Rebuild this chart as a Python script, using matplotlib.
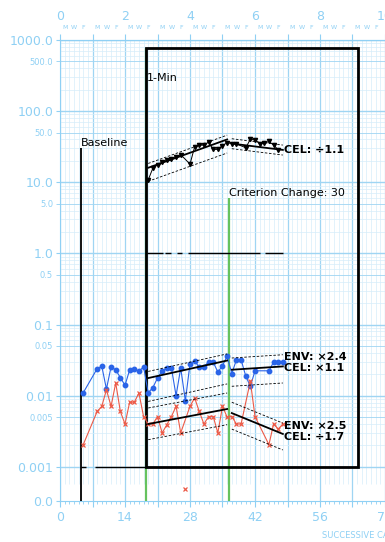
import numpy as np
import matplotlib
matplotlib.use("Agg")
import matplotlib.pyplot as plt
from matplotlib.patches import Rectangle

# ---- data ----
corr_days = [5, 8, 9, 10, 11, 12, 13, 14, 15, 16, 17, 18, 19, 20, 21, 22, 23, 24, 25, 26,
             27, 28, 29, 30, 31, 32, 33, 34, 35, 36, 37, 38, 39, 40, 41, 42, 45, 46, 47, 48]
corr_vals = [0.011, 0.024, 0.026, 0.0124, 0.0255, 0.023, 0.018, 0.014, 0.023, 0.024, 0.022,
             0.0255, 0.011, 0.013, 0.0177, 0.0225, 0.0245, 0.0245, 0.010, 0.0245, 0.0085,
             0.028, 0.031, 0.025, 0.0256, 0.0297, 0.0297, 0.0215, 0.0264, 0.036, 0.0205,
             0.032, 0.032, 0.019, 0.0135, 0.0224, 0.0224, 0.0297, 0.030, 0.0297]

err_days = [5, 8, 9, 10, 11, 12, 13, 14, 15, 16, 17, 18, 19, 20, 21, 22, 23, 24, 25, 26,
            27, 28, 29, 30, 31, 32, 33, 34, 35, 36, 37, 38, 39, 41, 42, 45, 46, 47, 48]
err_vals = [0.00205, 0.0060, 0.0071, 0.0121, 0.0071, 0.0151, 0.0060, 0.0040, 0.0081, 0.0081,
            0.0109, 0.0051, 0.0040, 0.0040, 0.0051, 0.0030, 0.0039, 0.0051, 0.0071, 0.0030,
            0, 0.0071, 0.0093, 0.0060, 0.0040, 0.0051, 0.0051, 0.0030, 0.0071, 0.0050,
            0.0051, 0.0040, 0.0040, 0.016, 0.0051, 0.00205, 0.0040, 0.0034, 0.0040]

top_days = [19, 20, 21, 22, 23, 24, 25, 26, 28, 29, 30, 31, 32, 33, 34, 35, 36, 37, 38,
            40, 41, 42, 43, 44, 45, 46, 47]
top_vals = [10.8, 15.8, 17.5, 19, 20.5, 21.5, 22.5, 24.5, 18, 31.5, 33, 33.5, 36.5, 29, 29,
            32.8, 36, 35, 34.5, 30.7, 40, 39.5, 35, 35.5, 37.5, 33.5, 28.5]

# celeration lines (solid) and their envelopes (dashed)
cel_x0 = [19, 19, 19, 37, 37, 37]
cel_x1 = [36, 36, 36, 48, 48, 48]
cel_y0 = [16.0, 0.0177, 0.0040, 35.0, 0.0232, 0.0057]
cel_y1 = [40.0, 0.0312, 0.0065, 28.5, 0.0258, 0.0029]
env_up = [1.15, 1.24, 1.68, 1.17, 1.46, 1.42]
env_dn = [1.55, 2.13, 1.66, 1.18, 1.71, 1.68]

# record floors
floor_lo = [4.5, 7.5, 18.7, 22.6, 25.1, 27.6, 44.1]
floor_hi = [5.5, 18.5, 22.2, 24.0, 26.2, 43.1, 48.1]
floor_val = [0.001, 0.001, 1, 1, 1, 1, 1]

week_labels = [str(w) if w % 2 == 0 else "" for w in range(21)]
day_labels = [str(d) if d % 14 == 0 else "" for d in range(0, 141, 7)]

LIGHT = "#8fd0f4"
GRID_MAJ = "#9fd5f3"
GRID_MIN = "#d6edfa"
BLUE = "#2a64e8"
RED = "#ec5a47"
GREEN = "#66c25e"
Y_BOT = 10 ** -3.48
ZERO_Y = 10 ** -3.31

fig = plt.figure(figsize=(3.85, 5.42), dpi=100)
ax = fig.add_axes([60 / 385, 41 / 542, 650 / 385, 461 / 542])
ax.set_xlim(0, 140)
ax.set_yscale("log")
ax.set_ylim(Y_BOT, 1000)

# grid
for d in range(141):
    if d % 7 == 0:
        ax.axvline(d, color=GRID_MAJ, lw=0.9, zorder=0)
    else:
        ax.vlines(d, 5.8e-4, 1000, color=GRID_MIN, lw=0.5, zorder=0)
for e in range(-3, 3):
    for m in range(1, 10):
        v = m * 10.0 ** e
        if m == 1:
            ax.axhline(v, color=GRID_MAJ, lw=1.0, zorder=0)
        elif m == 5:
            ax.axhline(v, color=GRID_MAJ, lw=0.6, zorder=0)
        else:
            ax.axhline(v, color=GRID_MIN, lw=0.5, zorder=0)
ax.axhline(1000, color=GRID_MAJ, lw=1.0, zorder=0)

# ticks
ax.set_xticks(range(0, 141, 7))
ax.set_xticklabels(day_labels)
ax.set_xticks(range(141), minor=True)
ax.set_yticks([Y_BOT, 0.001, 0.01, 0.1, 1, 10, 100, 1000])
ax.set_yticklabels(["0.0", "0.001", "0.01", "0.1", "1.0", "10.0", "100.0", "1000.0"])
ax.set_yticks([0.005, 0.05, 0.5, 5, 50, 500], minor=True)
ax.set_yticklabels(["0.005", "0.05", "0.5", "5.0", "50.0", "500.0"], minor=True)
ax.tick_params(axis="y", which="major", labelsize=9, colors=LIGHT, length=3, pad=2)
ax.tick_params(axis="y", which="minor", labelsize=6, colors=LIGHT, length=3, pad=2)
ax.tick_params(axis="x", which="major", labelsize=9, colors=LIGHT, length=4)
ax.tick_params(axis="x", which="minor", colors=LIGHT, length=2)
for sp in ax.spines.values():
    sp.set_color(LIGHT)
ax.set_xlabel("SUCCESSIVE CALENDAR DAYS", fontsize=6, color=LIGHT, labelpad=4.5)

top = ax.secondary_xaxis("top")
top.set_xticks(range(0, 141, 7))
top.set_xticklabels(week_labels)
mwf = [d for d in range(140) if d % 7 in (1, 3, 5)]
top.set_xticks(mwf, minor=True)
top.set_xticklabels(["MWF"[(d % 7) // 2] for d in mwf], minor=True)
top.tick_params(axis="x", which="major", labelsize=9, colors=LIGHT, length=4, pad=8)
top.tick_params(axis="x", which="minor", labelsize=4.5, colors=LIGHT, length=0, pad=7)
top.spines["top"].set_color(LIGHT)

# phase lines and boxes
ax.vlines(4.5, Y_BOT, 30, color="black", lw=1.3, zorder=3)
ax.text(4.6, 30, "Baseline", fontsize=8, va="bottom", ha="left")
ax.vlines(18.5, Y_BOT, 780, color=GREEN, lw=1.6, zorder=3)
ax.vlines(36.5, Y_BOT, 6.0, color=GREEN, lw=1.6, zorder=3)
ax.text(36.5, 6.0, "Criterion Change: 30", fontsize=8, va="bottom", ha="left")
ax.add_patch(Rectangle((18.5, 0.001), 64.25 - 18.5, 780 - 0.001, fill=False,
                       edgecolor="black", lw=2.0, zorder=4))
ax.text(18.7, 290, "1-Min", fontsize=8, va="center", ha="left")

for lo, hi, v in zip(floor_lo, floor_hi, floor_val):
    ax.hlines(v, lo, hi, color="black", lw=1.0, zorder=3)

# data series
corr_days = np.array(corr_days)
corr_vals = np.array(corr_vals)
err_days = np.array(err_days)
err_vals = np.array(err_vals, dtype=float)
nz = err_vals > 0
ax.plot(corr_days, corr_vals, color=BLUE, lw=0.8, marker="o", ms=3.2, zorder=5)
ax.plot(err_days[nz], err_vals[nz], color=RED, lw=0.8, marker="x", ms=3.2, mew=0.9, zorder=5)
ax.plot(err_days[~nz], np.full((~nz).sum(), ZERO_Y), ls="none", color=RED, marker="x",
        ms=3.2, mew=0.9, zorder=5)
ax.plot(top_days, top_vals, color="black", lw=0.7, marker="v", ms=3.0, zorder=5)

# celeration lines with envelopes
for x0, x1, y0, y1, up, dn in zip(cel_x0, cel_x1, cel_y0, cel_y1, env_up, env_dn):
    ax.plot([x0, x1], [y0, y1], color="black", lw=1.3, zorder=6)
    ax.plot([x0, x1], [y0 * up, y1 * up], color="black", lw=0.6, ls=(0, (3, 2)), zorder=6)
    ax.plot([x0, x1], [y0 / dn, y1 / dn], color="black", lw=0.6, ls=(0, (3, 2)), zorder=6)

lab_kw = dict(fontsize=8, fontweight="bold", va="center", ha="left", zorder=7)
ax.annotate("CEL: \u00f71.1", (48, cel_y1[3]), xytext=(1, 0), textcoords="offset points", **lab_kw)
ax.annotate("CEL: \u00d71.1", (48, cel_y1[4]), xytext=(1, -1), textcoords="offset points", **lab_kw)
ax.annotate("ENV: \u00d72.4", (48, cel_y1[4]), xytext=(1, 7), textcoords="offset points", **lab_kw)
ax.annotate("CEL: \u00f71.7", (48, cel_y1[5]), xytext=(1, -2), textcoords="offset points", **lab_kw)
ax.annotate("ENV: \u00d72.5", (48, cel_y1[5]), xytext=(1, 6), textcoords="offset points", **lab_kw)

fig.savefig("out.png", dpi=100)
